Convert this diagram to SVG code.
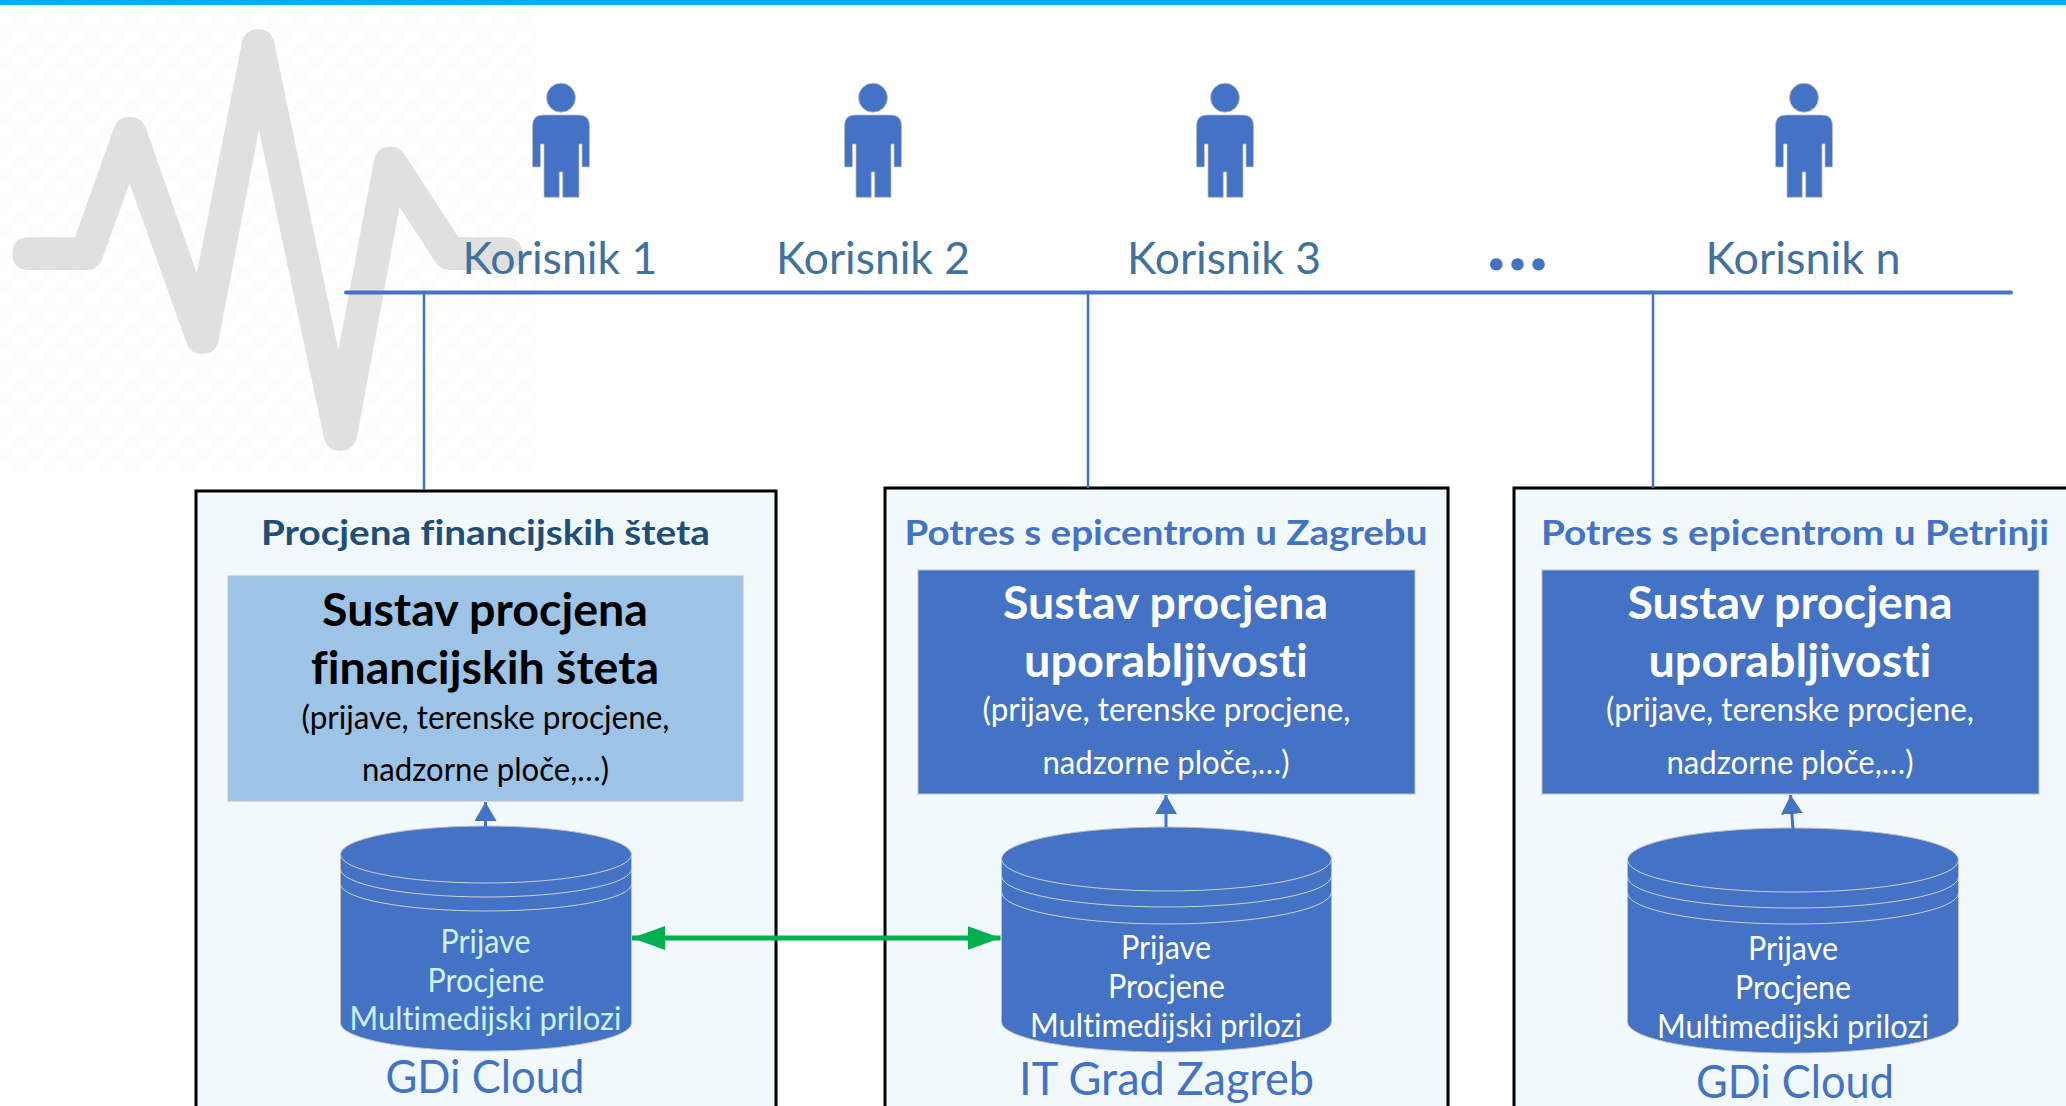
<svg xmlns="http://www.w3.org/2000/svg" width="2066" height="1106" viewBox="0 0 2066 1106">
<style>
text{font-family:Lato,"Liberation Sans",sans-serif;text-anchor:middle;font-variant-ligatures:none}
.usr{font-size:44px;fill:#41719C}
.ttl{font-size:35px;font-weight:700;fill:#4472C4}
.h{font-size:46px;font-weight:700;fill:#fff}
.s{font-size:33px;fill:#fff}
.d{font-size:32px;fill:#fff}
.c{font-size:47px;fill:#4472C4}
.frame{fill:#F2F9FC;stroke:#000;stroke-width:3}
.inner{fill:#4472C4;stroke:#BFBFBF;stroke-width:1}
.cyl{fill:#4472C4;stroke:#BFBFBF;stroke-width:1}
.rim{fill:none;stroke:#D0D0D0;stroke-width:1}
.p{fill:#4472C4;stroke:#BFBFBF;stroke-width:.8}
.bus{stroke:#4472C4;fill:none}
</style>
<defs>
<pattern id="chk" width="28" height="28" patternUnits="userSpaceOnUse"><rect width="14" height="14" fill="#FDFDFD"/><rect x="14" y="14" width="14" height="14" fill="#FDFDFD"/></pattern>
<g id="person"><circle cx="0" cy="97.7" r="14.5"/><path d="M-18,115H18Q28.500,115 28.500,126V167H21V144H18V197.300H1.700V172H-1.700V197.300H-17V144H-20.500V167H-28.500V126Q-28.500,115 -18,115Z"/></g>
<marker id="up" markerUnits="userSpaceOnUse" markerWidth="20" markerHeight="23" refX="19" refY="11" orient="auto"><path d="M0,0L19,11L0,22Z" fill="#4472C4"/></marker>
<marker id="gr" markerUnits="userSpaceOnUse" markerWidth="34" markerHeight="25" refX="33" refY="12" orient="auto-start-reverse"><path d="M0,0L33,12L0,24Z" fill="#00B050"/></marker>
</defs>
<rect width="2066" height="1106" fill="#fff"/>
<rect width="2066" height="5" fill="#00B0F0"/>
<g id="watermark">
<rect x="0" y="5" width="536" height="467" fill="url(#chk)"/>
<path transform="scale(.4464 .3333)" fill="#E0E0E0" d="M65,712L168,712L255,385Q265,350 290,350Q318,350 327,385L441,820L542,125Q548,88 578,88Q608,88 614,125L758,1050L838,480Q843,440 875,440Q895,440 906,462L1027,712L1130,712Q1170,712 1170,760Q1170,810 1130,810L1010,810Q985,810 975,785L895,622L800,1310Q793,1353 762,1353Q732,1353 725,1310L580,390L490,1020Q483,1062 453,1062Q425,1062 417,1025L290,550L228,780Q218,810 195,810L65,810Q28,810 28,760Q28,712 65,712Z"/>
</g>
<g id="user1"><use href="#person" x="561" class="p"/><text class="usr" x="560" y="274" textLength="195" lengthAdjust="spacingAndGlyphs">Korisnik 1</text></g>
<g id="user2"><use href="#person" x="873" class="p"/><text class="usr" x="873" y="274" textLength="194" lengthAdjust="spacingAndGlyphs">Korisnik 2</text></g>
<g id="user3"><use href="#person" x="1225" class="p"/><text class="usr" x="1224" y="274" textLength="194" lengthAdjust="spacingAndGlyphs">Korisnik 3</text></g>
<g id="dots"><text x="1519" y="270" style="font-size:76px;font-weight:900;fill:#4472C4;letter-spacing:3px">...</text></g>
<g id="usern"><use href="#person" x="1804" class="p"/><text class="usr" x="1803" y="274" textLength="195" lengthAdjust="spacingAndGlyphs">Korisnik n</text></g>

<g id="box1">
<rect class="frame" x="196" y="491" width="580" height="640"/>
<text class="ttl" x="485.500" y="545" textLength="449" lengthAdjust="spacingAndGlyphs" style="fill:#1F4E79">Procjena financijskih šteta</text>
<rect x="228" y="576" width="515" height="225" fill="#9DC3E6" stroke="#BFBFBF"/>
<text class="h" x="485" y="626" textLength="326" lengthAdjust="spacingAndGlyphs" style="fill:#000">Sustav procjena</text>
<text class="h" x="485" y="684" textLength="348" lengthAdjust="spacingAndGlyphs" style="fill:#000">financijskih šteta</text>
<text class="s" x="485.500" y="729" textLength="368" lengthAdjust="spacingAndGlyphs" style="fill:#000">(prijave, terenske procjene,</text>
<text class="s" x="485.500" y="781" textLength="247" lengthAdjust="spacingAndGlyphs" style="fill:#000">nadzorne ploče,…)</text>
<path class="cyl" d="M340.500,854.500A145.500,28.500 0 0 1 631.500,854.500V1023A145.500,28 0 0 1 340.500,1023Z"/>
<path class="rim" d="M340.500,854.500A145.500,28.500 0 0 0 631.500,854.500M340.500,869A145.500,28 0 0 0 631.500,869M340.500,884A145.500,27 0 0 0 631.500,884"/>
<text class="d" x="485.500" y="953" textLength="90" lengthAdjust="spacingAndGlyphs" style="fill:#CCF2FF">Prijave</text>
<text class="d" x="486" y="992" textLength="117" lengthAdjust="spacingAndGlyphs" style="fill:#CCF2FF">Procjene</text>
<text class="d" x="485.500" y="1030" textLength="272" lengthAdjust="spacingAndGlyphs" style="fill:#CCF2FF">Multimedijski prilozi</text>
<text class="c" x="485" y="1093" textLength="199" lengthAdjust="spacingAndGlyphs">GDi Cloud</text>
</g>

<g id="box2">
<rect class="frame" x="885" y="488" width="563" height="644"/>
<text class="ttl" x="1166" y="545" textLength="523" lengthAdjust="spacingAndGlyphs">Potres s epicentrom u Zagrebu</text>
<rect class="inner" x="918" y="570" width="497" height="224"/>
<text class="h" x="1165.500" y="619" textLength="325" lengthAdjust="spacingAndGlyphs">Sustav procjena</text>
<text class="h" x="1166" y="677" textLength="284" lengthAdjust="spacingAndGlyphs">uporabljivosti</text>
<text class="s" x="1166.500" y="721" textLength="368" lengthAdjust="spacingAndGlyphs">(prijave, terenske procjene,</text>
<text class="s" x="1166" y="774" textLength="247" lengthAdjust="spacingAndGlyphs">nadzorne ploče,…)</text>
<path class="cyl" d="M1001.500,859A165,32 0 0 1 1331.500,859V1022A165,30 0 0 1 1001.500,1022Z"/>
<path class="rim" d="M1001.500,859A165,32 0 0 0 1331.500,859M1001.500,876A165,31 0 0 0 1331.500,876M1001.500,892A165,32 0 0 0 1331.500,892"/>
<text class="d" x="1166" y="959" textLength="90" lengthAdjust="spacingAndGlyphs">Prijave</text>
<text class="d" x="1166.500" y="998" textLength="117" lengthAdjust="spacingAndGlyphs">Procjene</text>
<text class="d" x="1166" y="1037" textLength="272" lengthAdjust="spacingAndGlyphs">Multimedijski prilozi</text>
<text class="c" x="1166.500" y="1095" textLength="295" lengthAdjust="spacingAndGlyphs">IT Grad Zagreb</text>
</g>

<g id="box3">
<rect class="frame" x="1514" y="488" width="600" height="644"/>
<text class="ttl" x="1795" y="545" textLength="508" lengthAdjust="spacingAndGlyphs">Potres s epicentrom u Petrinji</text>
<rect class="inner" x="1542" y="570" width="497" height="224"/>
<text class="h" x="1790" y="619" textLength="325" lengthAdjust="spacingAndGlyphs">Sustav procjena</text>
<text class="h" x="1790" y="677" textLength="283" lengthAdjust="spacingAndGlyphs">uporabljivosti</text>
<text class="s" x="1790" y="721" textLength="368" lengthAdjust="spacingAndGlyphs">(prijave, terenske procjene,</text>
<text class="s" x="1790" y="774" textLength="247" lengthAdjust="spacingAndGlyphs">nadzorne ploče,…)</text>
<path class="cyl" d="M1627.500,860A165.250,32 0 0 1 1958.500,860V1022A165.250,31 0 0 1 1627.500,1022Z"/>
<path class="rim" d="M1627.500,860A165.250,32 0 0 0 1958.500,860M1627.500,877A165.250,31 0 0 0 1958.500,877M1627.500,893A165.250,31 0 0 0 1958.500,893"/>
<text class="d" x="1793" y="960" textLength="90" lengthAdjust="spacingAndGlyphs">Prijave</text>
<text class="d" x="1793" y="999" textLength="116" lengthAdjust="spacingAndGlyphs">Procjene</text>
<text class="d" x="1793" y="1038" textLength="272" lengthAdjust="spacingAndGlyphs">Multimedijski prilozi</text>
<text class="c" x="1795" y="1098" textLength="198" lengthAdjust="spacingAndGlyphs">GDi Cloud</text>
</g>

<g id="connectors">
<path class="bus" stroke-width="4" stroke-linecap="round" d="M346,292.500H2011"/>
<path class="bus" stroke-width="2.500" d="M424,293V490M1088,293V488M1653,293V488"/>
<path class="bus" stroke-width="3" marker-end="url(#up)" d="M485.500,827V802"/>
<path class="bus" stroke-width="3" marker-end="url(#up)" d="M1166,827V795"/>
<path class="bus" stroke-width="3" marker-end="url(#up)" d="M1793,829L1790.600,795"/>
<path stroke="#00B050" stroke-width="5" fill="none" marker-start="url(#gr)" marker-end="url(#gr)" d="M632,938H1000.500"/>
</g>
</svg>
